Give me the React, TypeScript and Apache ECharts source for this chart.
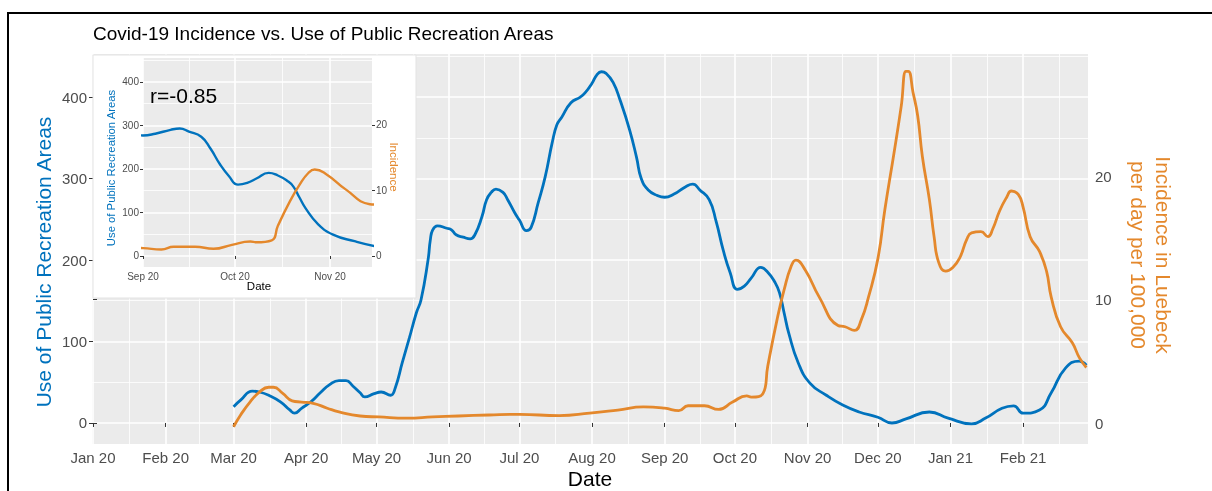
import React, { useEffect, useRef } from "react";
import * as echarts from "echarts";

// ---------- data ----------
const blueDates = ["2020-03-01","2020-03-04","2020-03-09","2020-03-12","2020-03-16","2020-03-21","2020-03-25","2020-03-27","2020-03-30","2020-04-03","2020-04-07","2020-04-11","2020-04-15","2020-04-18","2020-04-21","2020-04-24","2020-04-26","2020-04-30","2020-05-03","2020-05-07","2020-05-09","2020-05-12","2020-05-15","2020-05-18","2020-05-20","2020-05-23","2020-05-24","2020-05-25","2020-05-27","2020-05-31","2020-06-02","2020-06-04","2020-06-07","2020-06-10","2020-06-12","2020-06-15","2020-06-17","2020-06-19","2020-06-21","2020-06-24","2020-06-26","2020-06-29","2020-07-01","2020-07-04","2020-07-06","2020-07-09","2020-07-12","2020-07-15","2020-07-17","2020-07-19","2020-07-23","2020-07-27","2020-07-29","2020-08-01","2020-08-03","2020-08-05","2020-08-07","2020-08-10","2020-08-13","2020-08-17","2020-08-20","2020-08-22","2020-08-25","2020-08-29","2020-09-01","2020-09-05","2020-09-10","2020-09-13","2020-09-16","2020-09-20","2020-09-23","2020-09-26","2020-09-29","2020-10-02","2020-10-05","2020-10-08","2020-10-12","2020-10-15","2020-10-18","2020-10-20","2020-10-22","2020-10-24","2020-10-28","2020-11-02","2020-11-09","2020-11-16","2020-11-23","2020-12-01","2020-12-07","2020-12-13","2020-12-23","2020-12-31","2021-01-10","2021-01-16","2021-01-23","2021-01-28","2021-02-01","2021-02-08","2021-02-13","2021-02-19","2021-02-25","2021-02-28"];
const blueValues = [20,28,39,38,34,26,16,12,18,26,37,47,52,52,45,37,32,36,38,34,43,74,104,135,151,200,225,237,242,239,237,231,228,226,231,253,274,283,287,283,274,258,249,236,240,270,302,344,366,375,393,400,405,417,427,431,429,418,396,360,326,300,286,279,277,281,290,293,286,274,247,212,184,164,168,178,191,185,173,160,135,110,74,49,34,22,13.5,7,0,5,13.5,6,-1,6,18,21,12,16,37,67,76,71];

const orangeDates = ["2020-03-01","2020-03-04","2020-03-08","2020-03-12","2020-03-16","2020-03-18","2020-03-22","2020-03-26","2020-03-30","2020-04-04","2020-04-10","2020-04-15","2020-04-24","2020-05-02","2020-05-14","2020-05-25","2020-06-05","2020-06-18","2020-07-01","2020-07-18","2020-07-31","2020-08-12","2020-08-23","2020-09-01","2020-09-07","2020-09-11","2020-09-18","2020-09-24","2020-09-30","2020-10-06","2020-10-08","2020-10-13","2020-10-15","2020-10-19","2020-10-22","2020-10-25","2020-10-27","2020-10-31","2020-11-06","2020-11-14","2020-11-17","2020-11-21","2020-11-24","2020-11-27","2020-12-01","2020-12-04","2020-12-08","2020-12-11","2020-12-13","2020-12-14","2020-12-16","2020-12-18","2020-12-20","2020-12-23","2020-12-25","2020-12-27","2020-12-30","2021-01-02","2021-01-05","2021-01-08","2021-01-10","2021-01-14","2021-01-17","2021-01-19","2021-01-22","2021-01-25","2021-01-27","2021-01-30","2021-02-01","2021-02-04","2021-02-08","2021-02-11","2021-02-13","2021-02-17","2021-02-22","2021-02-25","2021-02-28"];
const orangeValues = [-0.3,0.65,1.7,2.5,2.9,2.9,2.4,1.8,1.7,1.6,1.2,0.9,0.57,0.49,0.4,0.49,0.57,0.65,0.7,0.6,0.8,1.05,1.3,1.2,1.0,1.4,1.4,1.1,1.7,2.2,2.1,2.4,4.6,8.4,10.8,12.7,13.2,12.4,10.2,7.9,7.8,7.5,8.4,10.2,13.3,17.3,22,25.7,28.5,28.5,26.8,24.9,21.6,18.1,15.1,13.0,12.3,12.6,13.4,14.9,15.4,15.5,15.1,15.7,17.2,18.3,18.8,18.5,17.5,15.1,13.9,12.3,10.2,7.8,6.5,5.3,4.5];

const monthTicks = ["2020-01-01","2020-02-01","2020-03-01","2020-04-01","2020-05-01","2020-06-01","2020-07-01","2020-08-01","2020-09-01","2020-10-01","2020-11-01","2020-12-01","2021-01-01","2021-02-01"];
const monthLabels = ["Jan 20","Feb 20","Mar 20","Apr 20","May 20","Jun 20","Jul 20","Aug 20","Sep 20","Oct 20","Nov 20","Dec 20","Jan 21","Feb 21"];
const insetMonthTicks = ["2020-09-01","2020-10-01","2020-11-01"];
const insetMonthLabels = ["Sep 20","Oct 20","Nov 20"];
const leftTicks = [0, 100, 200, 300, 400];
const rightTicks = [0, 10, 20];
const correlationLabel = "r=-0.85";

// ---------- helpers ----------
const ORIGIN = Date.UTC(2020, 0, 1);
const toDay = (s: string) => (Date.parse(s) - ORIGIN) / 86400000;
const minorOf = (ticks: number[]) => {
  const d = ticks[1] - ticks[0];
  const ext = [ticks[0] - d, ...ticks, ticks[ticks.length - 1] + d];
  const out: number[] = [];
  for (let i = 1; i < ext.length; i++) out.push((ext[i - 1] + ext[i]) / 2);
  return out;
};

const BLUE = "#0072BD";
const ORANGE = "#E4882C";
const FONT = "Liberation Sans, Arial, sans-serif";
const GRAY_BG = "#EBEBEB";
const SMOOTH = 0.5;

export default function App() {
  const ref = useRef<HTMLDivElement>(null);
  useEffect(() => {
    if (!ref.current) return;
    const chart = echarts.init(ref.current, undefined, { renderer: "svg" });

    const monthDays = monthTicks.map(toDay);
    const insetDays = insetMonthTicks.map(toDay);
    const monthMinor = minorOf(monthDays);
    const insetMinor = minorOf(insetDays);
    const yMinor = minorOf(leftTicks);

    const labelFor = (days: number[], labels: string[]) => (v: number) => {
      const i = days.findIndex((d) => Math.abs(d - v) < 0.01);
      return i >= 0 ? labels[i] : "";
    };

    const blueData = blueDates.map((d, i) => [toDay(d), blueValues[i]]);
    const orangeData = orangeDates.map((d, i) => [toDay(d), orangeValues[i]]);

    const majorSplit = { show: true, lineStyle: { color: "#FFFFFF", width: 1.6 } };
    const minorSplit = { show: true, lineStyle: { color: "#FFFFFF", width: 0.8 } };
    const tickStyle = (len: number, vals: number[]) => ({
      show: true, length: len, customValues: vals, lineStyle: { color: "#333333", width: 1 },
    });

    const mainXMin = -0.43, mainXMax = 424.7;
    const insetXMin = toDay("2020-09-01"), insetXMax = toDay("2020-09-01") + 74.7;

    const option: any = {
      animation: false,
      grid: [
        { left: 92, right: 124, top: 54, bottom: 47, show: true, backgroundColor: GRAY_BG, borderWidth: 0, z: 0 },
        { left: 143, top: 58, width: 229, height: 209, show: true, backgroundColor: GRAY_BG, borderWidth: 0, z: 2 },
      ],
      xAxis: [
        {
          type: "value", gridIndex: 0, min: mainXMin, max: mainXMax,
          axisLine: { show: false },
          axisTick: tickStyle(4, monthDays),
          axisLabel: { customValues: monthDays, formatter: labelFor(monthDays, monthLabels), color: "#4D4D4D", fontSize: 15, fontFamily: FONT, margin: 6 },
          splitLine: majorSplit,
        },
        {
          type: "value", gridIndex: 0, min: mainXMin, max: mainXMax,
          axisLine: { show: false }, axisTick: { show: false, customValues: monthMinor },
          axisLabel: { show: false }, splitLine: minorSplit,
        },
        {
          type: "value", gridIndex: 1, min: insetXMin, max: insetXMax, z: 3,
          axisLine: { show: false },
          axisTick: tickStyle(3, insetDays),
          axisLabel: { customValues: insetDays, formatter: labelFor(insetDays, insetMonthLabels), color: "#4D4D4D", fontSize: 10, fontFamily: FONT, margin: 4 },
          splitLine: majorSplit,
        },
        {
          type: "value", gridIndex: 1, min: insetXMin, max: insetXMax, z: 3,
          axisLine: { show: false }, axisTick: { show: false, customValues: insetMinor },
          axisLabel: { show: false }, splitLine: minorSplit,
        },
      ],
      yAxis: [
        {
          type: "value", gridIndex: 0, position: "left", min: -25.8, max: 452.8,
          axisLine: { show: false }, axisTick: tickStyle(4, leftTicks),
          axisLabel: { customValues: leftTicks, color: "#4D4D4D", fontSize: 15, fontFamily: FONT, margin: 5 },
          splitLine: majorSplit,
        },
        {
          type: "value", gridIndex: 0, position: "right", min: -1.7, max: 29.9,
          axisLine: { show: false }, axisTick: tickStyle(4, rightTicks),
          axisLabel: { customValues: rightTicks, color: "#4D4D4D", fontSize: 15, fontFamily: FONT, margin: 7 },
          splitLine: { show: false },
        },
        {
          type: "value", gridIndex: 0, position: "left", min: -25.8, max: 452.8,
          axisLine: { show: false }, axisTick: { show: false, customValues: yMinor },
          axisLabel: { show: false }, splitLine: minorSplit,
        },
        {
          type: "value", gridIndex: 1, position: "left", min: -25.3, max: 455, z: 3,
          axisLine: { show: false }, axisTick: tickStyle(3, leftTicks),
          axisLabel: { customValues: leftTicks, color: "#4D4D4D", fontSize: 10, fontFamily: FONT, margin: 4 },
          splitLine: majorSplit,
        },
        {
          type: "value", gridIndex: 1, position: "right", min: -1.68, max: 30.2, z: 3,
          axisLine: { show: false }, axisTick: tickStyle(3, rightTicks),
          axisLabel: { customValues: rightTicks, color: "#4D4D4D", fontSize: 10, fontFamily: FONT, margin: 4 },
          splitLine: { show: false },
        },
        {
          type: "value", gridIndex: 1, position: "left", min: -25.3, max: 455, z: 3,
          axisLine: { show: false }, axisTick: { show: false, customValues: yMinor },
          axisLabel: { show: false }, splitLine: minorSplit,
        },
      ],
      series: [
        { type: "line", xAxisIndex: 0, yAxisIndex: 0, data: blueData, smooth: SMOOTH, showSymbol: false, lineStyle: { color: BLUE, width: 2.8 }, itemStyle: { color: BLUE } },
        { type: "line", xAxisIndex: 0, yAxisIndex: 1, data: orangeData, smooth: SMOOTH, showSymbol: false, lineStyle: { color: ORANGE, width: 2.8 }, itemStyle: { color: ORANGE } },
        { type: "line", xAxisIndex: 2, yAxisIndex: 3, data: blueData, smooth: SMOOTH, showSymbol: false, z: 5, lineStyle: { color: BLUE, width: 2.4 }, itemStyle: { color: BLUE } },
        { type: "line", xAxisIndex: 2, yAxisIndex: 4, data: orangeData, smooth: SMOOTH, showSymbol: false, z: 5, lineStyle: { color: ORANGE, width: 2.4 }, itemStyle: { color: ORANGE } },
      ],
      graphic: [
        { type: "rect", z: 1, silent: true, shape: { x: 93, y: 55, width: 323, height: 243 }, style: { fill: "#FFFFFF", stroke: "#E3E3E3", lineWidth: 1 } },
        { type: "text", z: 10, x: 93, y: 33, style: { text: "Covid-19 Incidence vs. Use of Public Recreation Areas", fill: "#000000", fontSize: 19, fontFamily: FONT, align: "left", verticalAlign: "middle" } },
        { type: "text", z: 10, x: 43, y: 262, rotation: Math.PI / 2, style: { text: "Use of Public Recreation Areas", fill: BLUE, fontSize: 21, fontFamily: FONT, align: "center", verticalAlign: "middle" } },
        { type: "text", z: 10, x: 1151, y: 255, rotation: -Math.PI / 2, style: { text: "Incidence in Luebeck\nper day per 100,000", fill: ORANGE, fontSize: 21, lineHeight: 25, fontFamily: FONT, align: "center", verticalAlign: "middle" } },
        { type: "text", z: 10, x: 590, y: 478, style: { text: "Date", fill: "#000000", fontSize: 21, fontFamily: FONT, align: "center", verticalAlign: "middle" } },
        { type: "text", z: 10, x: 150, y: 95, style: { text: correlationLabel, fill: "#000000", fontSize: 21, fontFamily: FONT, align: "left", verticalAlign: "middle" } },
        { type: "text", z: 10, x: 111, y: 168, rotation: Math.PI / 2, style: { text: "Use of Public Recreation Areas", fill: BLUE, fontSize: 11.3, fontFamily: FONT, align: "center", verticalAlign: "middle" } },
        { type: "text", z: 10, x: 394, y: 167, rotation: -Math.PI / 2, style: { text: "Incidence", fill: ORANGE, fontSize: 11.5, fontFamily: FONT, align: "center", verticalAlign: "middle" } },
        { type: "text", z: 10, x: 259, y: 286, style: { text: "Date", fill: "#000000", fontSize: 11.5, fontFamily: FONT, align: "center", verticalAlign: "middle" } },
        { type: "rect", z: 20, silent: true, shape: { x: 8, y: 13, width: 1220, height: 500 }, style: { fill: "none", stroke: "#000000", lineWidth: 2 } },
      ],
    };

    chart.setOption(option);
    return () => chart.dispose();
  }, []);

  return <div ref={ref} style={{ position: "fixed", left: 0, top: 0, width: 1212, height: 491 }} />;
}
